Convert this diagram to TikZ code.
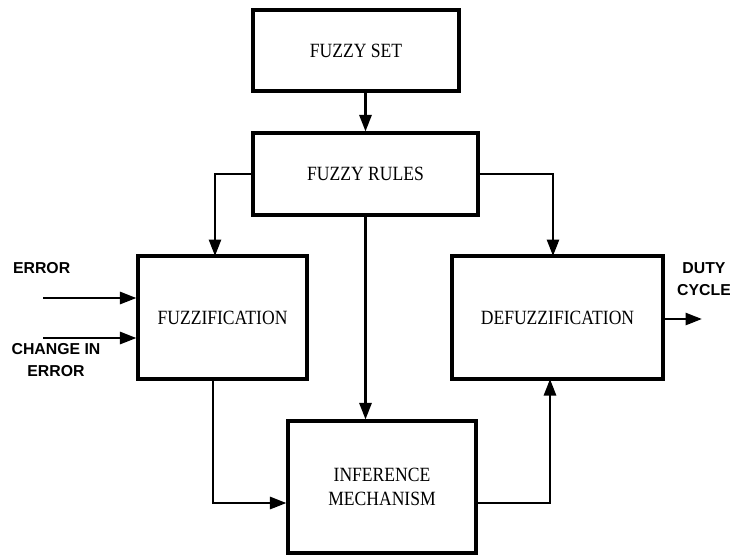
\documentclass[tikz,border=0pt]{standalone}
\usepackage{fontspec}
\setmainfont[FakeStretch=0.87]{Liberation Serif}
\newfontfamily\sigfont{Liberation Sans}
\usetikzlibrary{arrows.meta,positioning,calc}

\begin{document}
\begin{tikzpicture}[
    x=0.02cm, y=-0.02cm,
    blk/.style={draw, line width=1.75pt, align=center, font=\fontsize{11.5}{13.6}\selectfont},
    sig/.style={align=center, inner sep=1pt, font=\sigfont\bfseries\fontsize{9}{12.5}\selectfont},
    link/.style={line width=1.6pt},
    flow/.style={link, -{Triangle[length=0.33cm,width=0.24cm]}}
]
\useasboundingbox (0,0) rectangle (730,556);

\node[blk, minimum width=4.12cm, minimum height=1.62cm] (fset) at (356,50.5) {FUZZY SET};
\node[blk, minimum width=4.5cm, minimum height=1.64cm] (rules) at (365.5,174) {FUZZY RULES};
\node[blk, minimum width=3.38cm, minimum height=2.46cm] (fuzz) at (222.5,317.5) {FUZZIFICATION};
\node[blk, minimum width=4.22cm, minimum height=2.46cm] (defuzz) at (557.5,317.5) {DEFUZZIFICATION};
\node[blk, minimum width=3.76cm, minimum height=2.64cm] (infer) at (382,487) {INFERENCE\\ MECHANISM};

\node[sig, anchor=west] (err) at (11,268) {ERROR};
\node[sig] (derr) at (56,360) {CHANGE IN\\ ERROR};
\node[sig] (duty) at (704,279) {DUTY\\ CYCLE};

\coordinate (errin) at (43,298);
\coordinate (derrin) at (43,338);
\coordinate (dutyout) at (702,319);
\coordinate (lowline) at (0,503);

\draw[flow] (fset.south -| rules) -- (rules);
\draw[flow] (rules.west) -| (215,256);
\draw[flow] (rules.east) -| (553,256);
\draw[flow] (rules.south) -- (rules.south |- infer.north);
\draw[flow] (213,379) |- (infer.west |- lowline);
\draw[flow] (infer.east |- lowline) -| (550,379);
\draw[flow] (errin) -- (errin -| fuzz.west);
\draw[flow] (derrin) -- (derrin -| fuzz.west);
\draw[flow] (dutyout -| defuzz.east) -- (dutyout);
\end{tikzpicture}
\end{document}
